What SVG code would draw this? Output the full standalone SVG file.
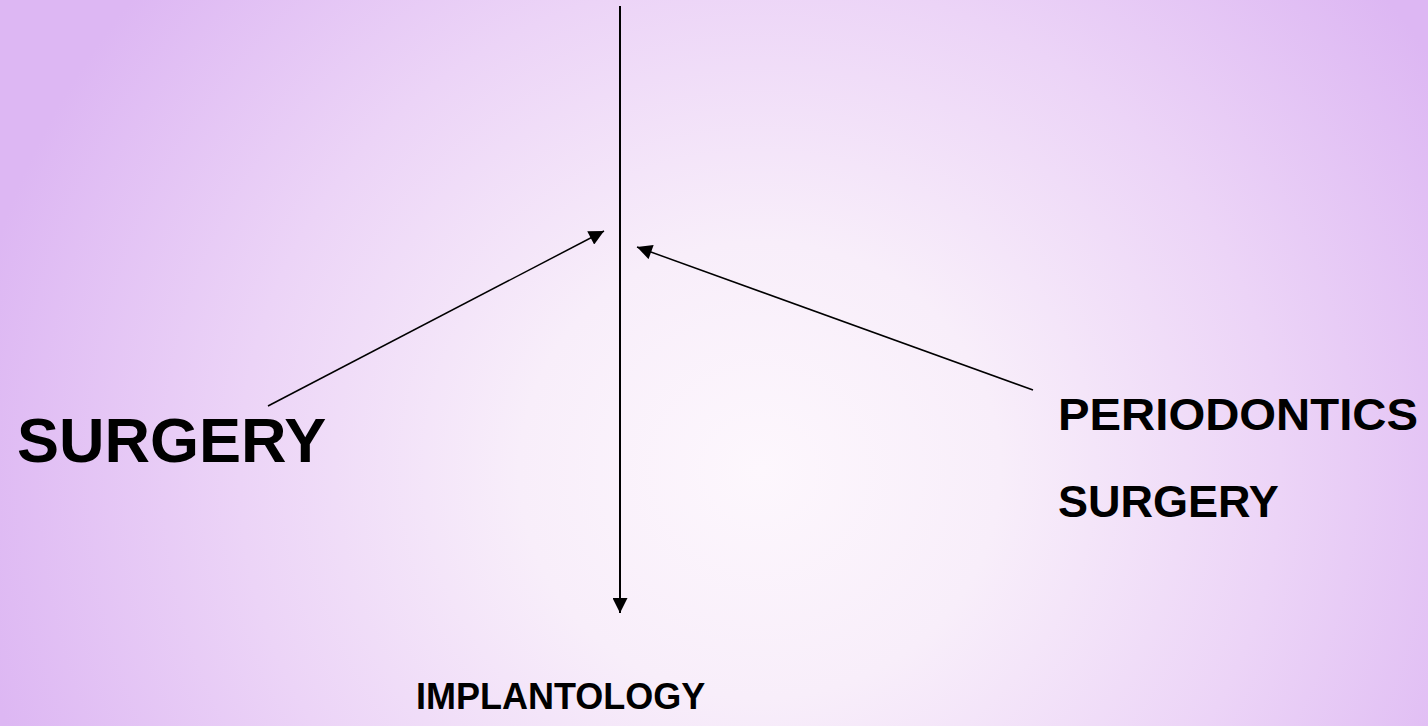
<svg xmlns="http://www.w3.org/2000/svg" width="1428" height="726" viewBox="0 0 1428 726">
  <defs>
    <radialGradient id="bg" cx="0" cy="0" r="1" gradientUnits="userSpaceOnUse" gradientTransform="translate(760 470) scale(800 760)">
      <stop offset="0" stop-color="#fdf7fd"/>
      <stop offset="0.3" stop-color="#f8eefa"/>
      <stop offset="0.65" stop-color="#ecd4f7"/>
      <stop offset="1" stop-color="#ddb7f3"/>
    </radialGradient>
    <marker id="ah" viewBox="0 0 10 10" refX="10" refY="5" markerWidth="16" markerHeight="15" markerUnits="userSpaceOnUse" orient="auto">
      <path d="M0,0 L10,5 L0,10 Z" fill="#000"/>
    </marker>
    <style>
      .lbl { font-family: "Liberation Sans", Arial, sans-serif; font-weight: bold; fill: #000; }
      .conn { stroke: #000; fill: none; }
    </style>
  </defs>
  <rect x="0" y="0" width="1428" height="726" fill="url(#bg)"/>
  <g id="connectors">
    <line class="conn" x1="620" y1="6" x2="620" y2="613" stroke-width="2" marker-end="url(#ah)"/>
    <line class="conn" x1="268" y1="406" x2="604" y2="231" stroke-width="1.5" marker-end="url(#ah)"/>
    <line class="conn" x1="1033" y1="390" x2="637" y2="247" stroke-width="1.5" marker-end="url(#ah)"/>
  </g>
  <g id="surgery">
    <text class="lbl" x="17" y="462" font-size="63">SURGERY</text>
  </g>
  <g id="periodontics-surgery">
    <text class="lbl" x="1058" y="430" font-size="45" textLength="360" lengthAdjust="spacingAndGlyphs">PERIODONTICS</text>
    <text class="lbl" x="1058" y="517" font-size="45">SURGERY</text>
  </g>
  <g id="implantology">
    <text class="lbl" x="416" y="709" font-size="36">IMPLANTOLOGY</text>
  </g>
</svg>
